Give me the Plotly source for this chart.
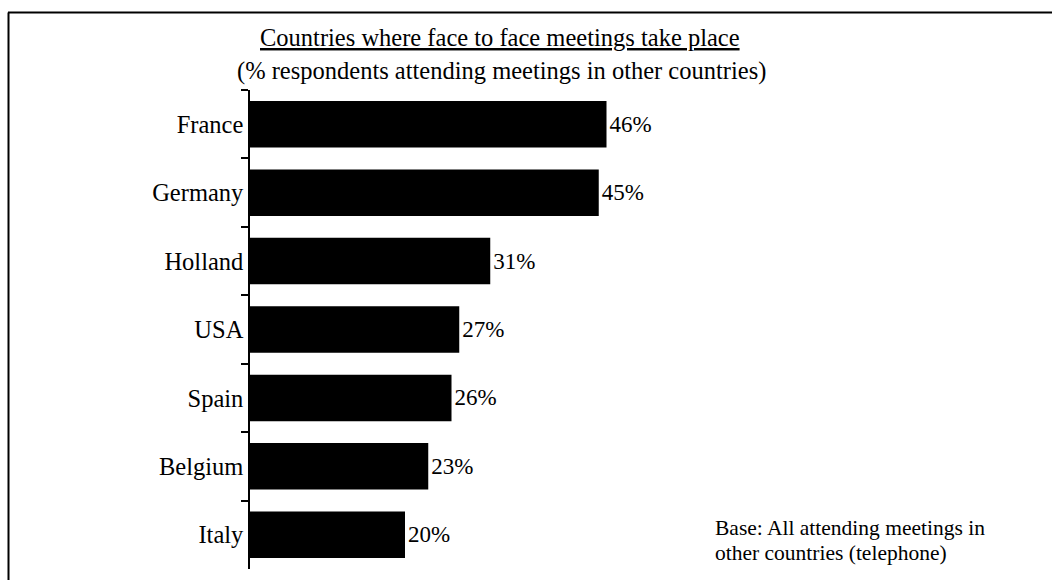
import plotly.graph_objects as go

# Survey results: share of respondents meeting face to face in each country
countries = ["France", "Germany", "Holland", "USA", "Spain", "Belgium", "Italy"]
shares = [46, 45, 31, 27, 26, 23, 20]
value_labels = [f"{v}%" for v in shares]

title_text = "Countries where face to face meetings take place"
subtitle_text = "(% respondents attending meetings in other countries)"
base_lines = ["Base: All attending meetings in", "other countries (telephone)"]

FONT = "Liberation Serif, Times New Roman, serif"
FS = 24.5

W, H = 1052, 580
ML, MR, MT, MB = 250, 27, 90, 11
PW, PH = W - ML - MR, H - MT - MB


def px_x(x):
    return (x - ML) / PW


def px_y(y):
    return (H - MB - y) / PH


fig = go.Figure(
    go.Bar(
        x=shares,
        y=countries,
        orientation="h",
        marker=dict(color="black", line=dict(width=0)),
        text=value_labels,
        textposition="outside",
        textfont=dict(family=FONT, size=23, color="black"),
        cliponaxis=False,
        hoverinfo="skip",
    )
)

fig.update_layout(
    width=W,
    height=H,
    margin=dict(l=ML, r=MR, t=MT, b=MB),
    paper_bgcolor="white",
    plot_bgcolor="white",
    bargap=0.32,
    showlegend=False,
    font=dict(family=FONT, size=FS, color="black"),
    xaxis=dict(
        range=[0, 100],
        visible=False,
        fixedrange=True,
    ),
    yaxis=dict(
        type="category",
        autorange="reversed",
        showline=True,
        linecolor="black",
        linewidth=1.5,
        ticks="outside",
        tickson="boundaries",
        ticklen=7,
        tickwidth=1.5,
        tickcolor="black",
        showgrid=False,
        zeroline=False,
        tickfont=dict(family=FONT, size=FS, color="black"),
        fixedrange=True,
    ),
)

annotations = [
    dict(text=f"<u>{title_text}</u>", x=px_x(500), y=px_y(38)),
    dict(text=subtitle_text, x=px_x(501), y=px_y(71)),
]
for a in annotations:
    a.update(xref="paper", yref="paper", xanchor="center", yanchor="middle",
             showarrow=False, font=dict(family=FONT, size=FS, color="black"))

for line, yc in zip(base_lines, [528, 553]):
    annotations.append(dict(
        text=line, x=px_x(713), y=px_y(yc), xref="paper", yref="paper",
        xanchor="left", yanchor="middle", showarrow=False,
        font=dict(family=FONT, size=21.5, color="black"),
    ))
fig.update_layout(annotations=annotations)

# Frame: top and left edges only
frame = dict(color="black", width=2)
fig.add_shape(type="line", xref="paper", yref="paper",
              x0=px_x(8), x1=px_x(1060), y0=px_y(12.5), y1=px_y(12.5), line=frame)
fig.add_shape(type="line", xref="paper", yref="paper",
              x0=px_x(8.5), x1=px_x(8.5), y0=px_y(12.5), y1=px_y(600), line=frame)

fig.write_html("out.html")
